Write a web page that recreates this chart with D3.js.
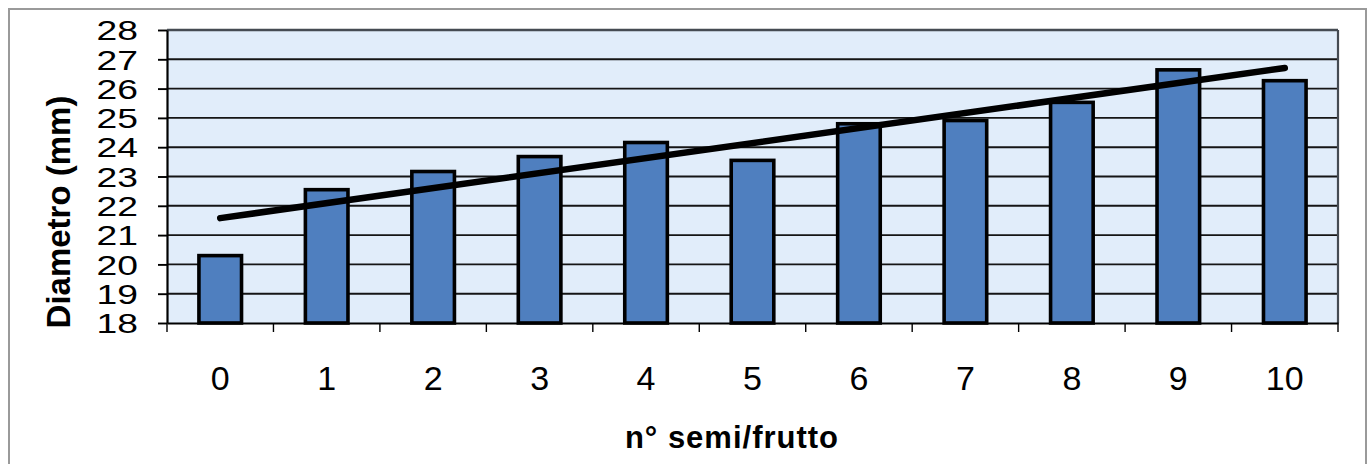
<!DOCTYPE html>
<html>
<head>
<meta charset="utf-8">
<script src="https://cdn.jsdelivr.net/npm/d3@7"></script>
<style>
  html, body { margin: 0; padding: 0; background: #fff; overflow: hidden; }
  svg { display: block; font-family: "Liberation Sans", Arial, sans-serif; }
</style>
</head>
<body>
<svg id="chart" width="1370" height="464"></svg>
<script>
// Mean fruit diameter by number of seeds per fruit
const categories = ["0", "1", "2", "3", "4", "5", "6", "7", "8", "9", "10"];
const diameters = [20.3, 22.55, 23.17, 23.68, 24.16, 23.55, 24.8, 24.91, 25.53, 26.64, 26.27];
const yTicks = [18, 19, 20, 21, 22, 23, 24, 25, 26, 27, 28];
const yTitle = "Diametro (mm)";
const xTitle = "n° semi/frutto";

const svg = d3.select("#chart");
const plot = { left: 167, right: 1338, top: 30, bottom: 323 };

const x = d3.scaleBand()
  .domain(categories)
  .range([plot.left, plot.right])
  .paddingInner(0.6)
  .paddingOuter(0.3);

const y = d3.scaleLinear()
  .domain([yTicks[0], yTicks[yTicks.length - 1]])
  .range([plot.bottom, plot.top]);

// outer frame
svg.append("rect")
  .attr("x", 9).attr("y", 9)
  .attr("width", 1357).attr("height", 480)
  .attr("fill", "none")
  .attr("stroke", "#9a9a9a")
  .attr("stroke-width", 2);

// plot background
svg.append("rect")
  .attr("x", plot.left).attr("y", plot.top)
  .attr("width", plot.right - plot.left)
  .attr("height", plot.bottom - plot.top)
  .attr("fill", "#e1edfa");

// horizontal gridlines
svg.append("g")
  .selectAll("line")
  .data(yTicks.slice(1))
  .join("line")
  .attr("x1", plot.left).attr("x2", plot.right)
  .attr("y1", d => y(d)).attr("y2", d => y(d))
  .attr("stroke", (d, i, a) => i === a.length - 1 ? "#454b52" : "#151515")
  .attr("stroke-width", (d, i, a) => i === a.length - 1 ? 2.4 : 1.9);

// right edge of plot area
svg.append("line")
  .attr("x1", plot.right).attr("x2", plot.right)
  .attr("y1", plot.top).attr("y2", plot.bottom)
  .attr("stroke", "#454b52")
  .attr("stroke-width", 2.2);

// bars
svg.append("g")
  .selectAll("rect")
  .data(diameters)
  .join("rect")
  .attr("x", (d, i) => x(categories[i]))
  .attr("y", d => y(d))
  .attr("width", x.bandwidth())
  .attr("height", d => y(yTicks[0]) - y(d))
  .attr("fill", "#4f7fbf")
  .attr("stroke", "#000")
  .attr("stroke-width", 3.6);

// linear least-squares trend line
const idx = diameters.map((d, i) => i);
const mx = d3.mean(idx), my = d3.mean(diameters);
const slope = d3.sum(idx, i => (i - mx) * (diameters[i] - my)) / d3.sum(idx, i => (i - mx) ** 2);
const icpt = my - slope * mx;
const trend = [0, categories.length - 1].map(i => [x(categories[i]) + x.bandwidth() / 2, y(icpt + slope * i)]);
svg.append("path")
  .attr("d", d3.line()(trend))
  .attr("fill", "none")
  .attr("stroke", "#000")
  .attr("stroke-width", 6.5)
  .attr("stroke-linecap", "round");

// y axis
const yAxis = svg.append("g")
  .attr("transform", `translate(${plot.left},0)`)
  .call(d3.axisLeft(y).tickValues(yTicks).tickSize(9).tickSizeOuter(0));
yAxis.select(".domain").attr("stroke", "#000").attr("stroke-width", 2.2);
yAxis.selectAll(".tick line").attr("stroke", "#000").attr("stroke-width", 1.9);
yAxis.selectAll(".tick text")
  .attr("x", 0)
  .attr("dy", "0.36em")
  .attr("transform", "translate(-29,0) scale(1.38,1)")
  .attr("fill", "#000")
  .style("font-size", "27px")
  .style("font-family", "'Liberation Sans', Arial, sans-serif");

// x axis: baseline, boundary ticks and category labels
const xAxis = svg.append("g")
  .attr("transform", `translate(0,${plot.bottom})`)
  .call(d3.axisBottom(x).tickSize(0).tickSizeOuter(0));
xAxis.select(".domain").attr("stroke", "#000").attr("stroke-width", 2.2);
xAxis.selectAll(".tick text")
  .attr("y", 67)
  .attr("dy", 0)
  .attr("fill", "#000")
  .style("font-size", "34px")
  .style("font-family", "'Liberation Sans', Arial, sans-serif");

const step = x.step();
const boundaries = d3.range(categories.length + 1).map(k => x.range()[0] + k * step);
xAxis.selectAll(".boundary")
  .data(boundaries)
  .join("line")
  .attr("class", "boundary")
  .attr("x1", d => d).attr("x2", d => d)
  .attr("y1", 0).attr("y2", 9)
  .attr("stroke", "#000")
  .attr("stroke-width", 1.4);

// axis titles
svg.append("text")
  .attr("transform", "translate(70,212) rotate(-90)")
  .attr("text-anchor", "middle")
  .style("font-size", "33px")
  .style("font-weight", "bold")
  .attr("fill", "#000")
  .text(yTitle);

svg.append("text")
  .attr("x", 732).attr("y", 448)
  .attr("text-anchor", "middle")
  .style("font-size", "31px")
  .style("font-weight", "bold")
  .style("letter-spacing", "1px")
  .attr("fill", "#000")
  .text(xTitle);
</script>
</body>
</html>
